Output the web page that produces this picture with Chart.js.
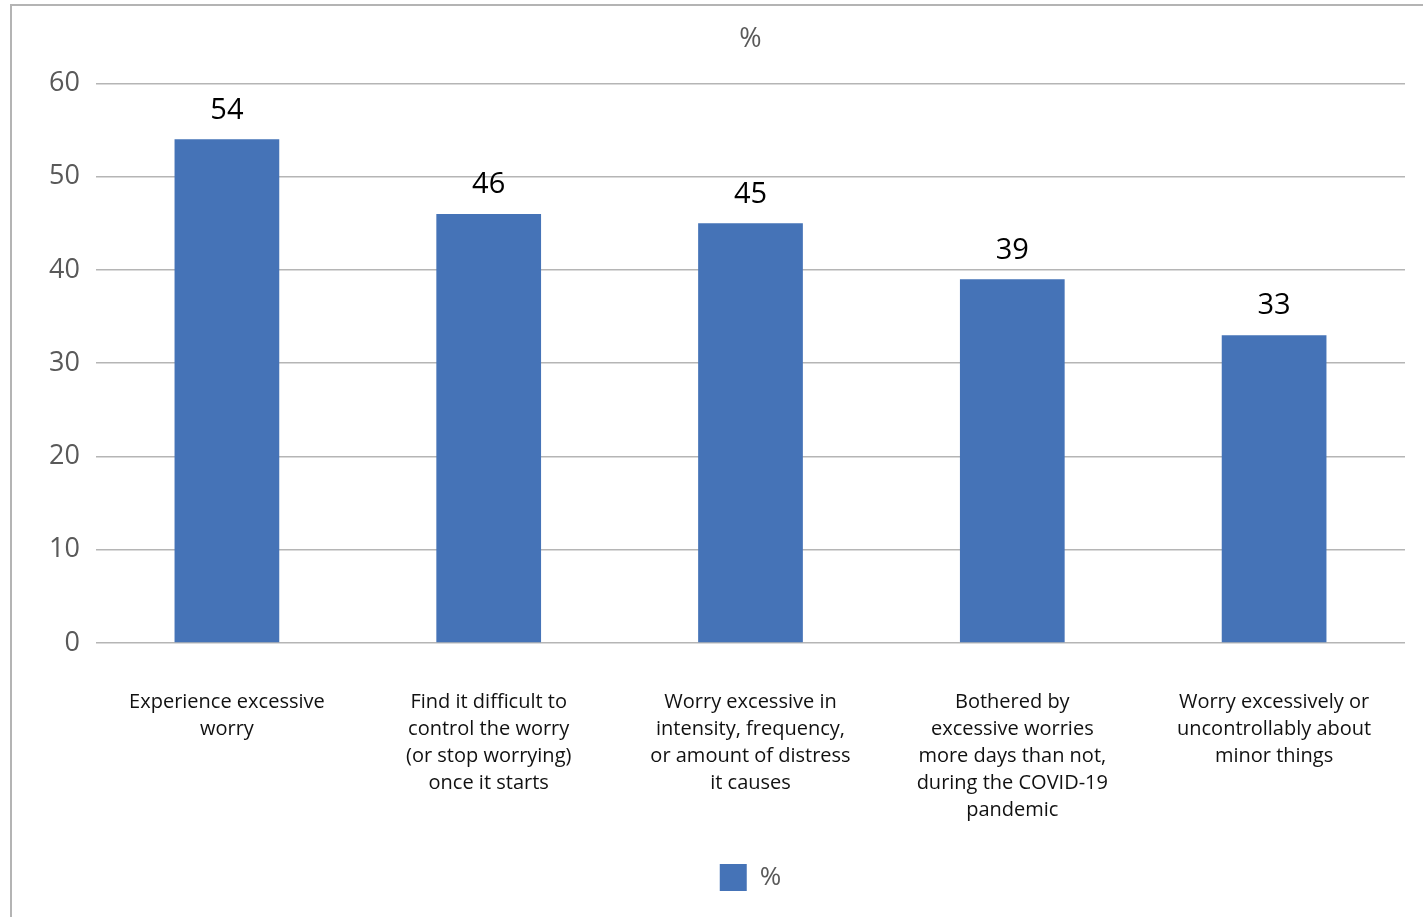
<!DOCTYPE html>
<html>
<head>
<meta charset="utf-8">
<script src="https://cdn.jsdelivr.net/npm/chart.js@4/dist/chart.umd.min.js"></script>
<style>
  html, body { margin: 0; padding: 0; background: #ffffff; }
  #frame {
    position: absolute; left: 10px; top: 4px;
    width: 1413px; height: 913px;
    border-left: 2px solid #b4b4b4; border-top: 2px solid #b4b4b4;
    box-sizing: border-box;
  }
  #wrap { position: absolute; left: 0; top: 0; width: 1411px; height: 911px; }
</style>
</head>
<body>
<div id="frame"><div id="wrap"><canvas id="chart"></canvas></div></div>
<script>
// Survey items (multi-line category labels)
const categories = [
  ["Experience excessive", "worry"],
  ["Find it difficult to", "control the worry", "(or stop worrying)", "once it starts"],
  ["Worry excessive in", "intensity, frequency,", "or amount of distress", "it causes"],
  ["Bothered by", "excessive worries", "more days than not,", "during the COVID-19", "pandemic"],
  ["Worry excessively or", "uncontrollably about", "minor things"]
];
// Share of respondents, %
const percentValues = [54, 46, 45, 39, 33];
const seriesName = "%";
const chartTitle = "%";
const yTicks = [0, 10, 20, 30, 40, 50, 60];

const FONT = "'Open Sans', 'Noto Sans', sans-serif";
const BLUE = "#4573b7";
const GREY_TEXT = "#595959";

// Writes each bar's value centred above it
const valueLabels = {
  id: "valueLabels",
  afterDatasetsDraw(chart) {
    const ctx = chart.ctx;
    const meta = chart.getDatasetMeta(0);
    const values = chart.data.datasets[0].data;
    ctx.save();
    ctx.font = "29px " + FONT;
    ctx.fillStyle = "#000000";
    ctx.textAlign = "center";
    ctx.textBaseline = "middle";
    meta.data.forEach((bar, i) => {
      ctx.fillText(String(values[i]), bar.x, bar.y - 29);
    });
    ctx.restore();
  }
};

new Chart(document.getElementById("chart"), {
  type: "bar",
  data: {
    labels: categories,
    datasets: [{
      label: seriesName,
      data: percentValues,
      backgroundColor: BLUE,
      borderWidth: 0,
      categoryPercentage: 1.0,
      barPercentage: 0.4
    }]
  },
  options: {
    responsive: true,
    maintainAspectRatio: false,
    animation: false,
    layout: { padding: { left: 0, right: 18, top: 0, bottom: 16 } },
    plugins: {
      title: {
        display: true,
        text: chartTitle,
        fullSize: false,
        color: GREY_TEXT,
        font: { family: FONT, size: 27, weight: "normal", lineHeight: 1.2 },
        padding: { top: 17, bottom: 28 }
      },
      legend: {
        display: true,
        position: "bottom",
        fullSize: false,
        labels: {
          color: GREY_TEXT,
          font: { family: FONT, size: 26 },
          boxWidth: 27,
          boxHeight: 27,
          padding: 10
        }
      },
      tooltip: { enabled: false }
    },
    scales: {
      x: {
        grid: { display: false, drawTicks: false },
        border: { display: false },
        ticks: {
          color: "#111111",
          font: { family: FONT, size: 20, lineHeight: 1.35 },
          padding: 46,
          maxRotation: 0,
          autoSkip: false
        },
        afterFit(scale) { scale.height = 211; }
      },
      y: {
        min: 0,
        max: 60,
        afterBuildTicks(scale) { scale.ticks = yTicks.map(v => ({ value: v })); },
        grid: { color: "#b5b5b5", lineWidth: 1.6, drawTicks: false },
        border: { display: false },
        ticks: {
          color: GREY_TEXT,
          font: { family: FONT, size: 27 },
          padding: 16
        },
        afterFit(scale) { scale.width = 84; }
      }
    }
  },
  plugins: [valueLabels]
});
</script>
</body>
</html>
